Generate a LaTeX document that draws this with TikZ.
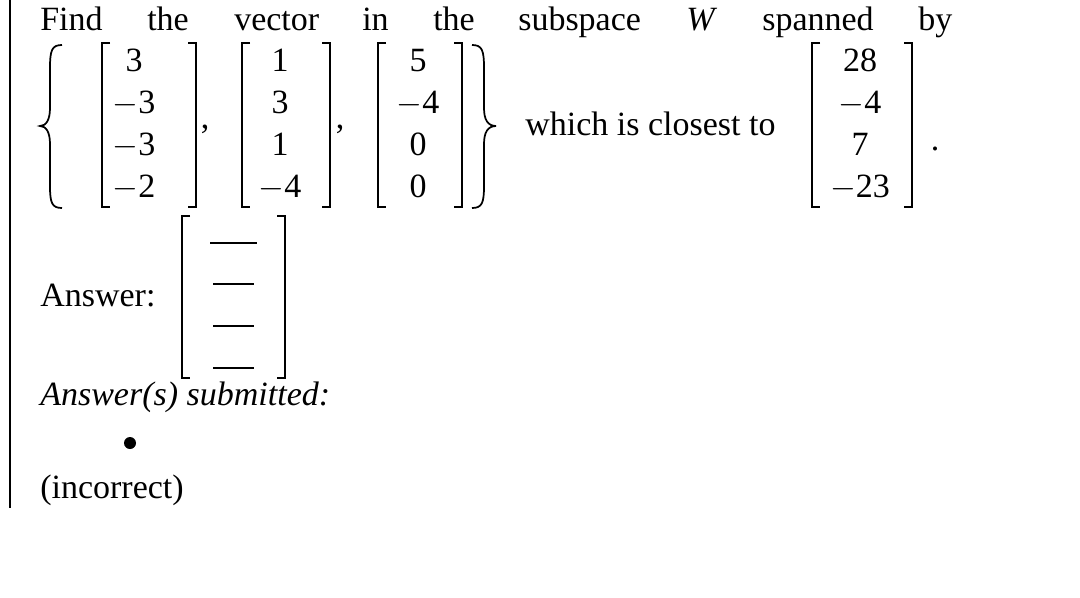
\documentclass[tikz,border=0pt]{standalone}
\usepackage{fontspec}
\setmainfont{Liberation Serif}
\begin{document}
\begin{tikzpicture}[x=0.75pt,y=-0.75pt,
  txt/.style={inner sep=0pt,anchor=base west,font=\fontsize{25.5}{30}\selectfont},
  num/.style={inner sep=0pt,anchor=base,font=\fontsize{25.5}{30}\selectfont},
  brk/.style={line width=1.4pt},
  brc/.style={line width=1.3pt}]
\useasboundingbox[fill=white] (0,0) rectangle (1080,597);
\draw[line width=0.8pt] (10,0) -- (10,508);
% first line
\foreach \w/\x in {Find/40,the/147,vector/234,in/362,the/433,subspace/518,spanned/762,by/918}
  \node[txt] at (\x,30) {\w};
\node[txt] at (686,30) {\itshape W};
% braces
\draw[brc] (62,45) .. controls (52,45) and (50,50) .. (50,68) -- (50,108)
  .. controls (50,120) and (46,126) .. (40,126) .. controls (46,126) and (50,132) .. (50,144)
  -- (50,186) .. controls (50,203) and (52,208) .. (62,208);
\draw[brc] (472,45) .. controls (482,45) and (484,50) .. (484,68) -- (484,108)
  .. controls (484,120) and (488,126) .. (496,126) .. controls (488,126) and (484,132) .. (484,144)
  -- (484,186) .. controls (484,203) and (482,208) .. (472,208);
% matrices
\newcommand\mybrk[2]{%
 \draw[brk] (#1+8,43) -- (#1,43) -- (#1,207) -- (#1+8,207);
 \draw[brk] (#2-8,43) -- (#2,43) -- (#2,207) -- (#2-8,207);}
\mybrk{102}{196}
\mybrk{242}{330}
\mybrk{378}{462}
\mybrk{812}{912}
\foreach \a/\b/\c/\d [count=\i] in {3/1/5/28,{$-$3}/3/{$-$4}/{$-$4},{$-$3}/1/0/7,{$-$2}/{$-$4}/0/{$-$23}}{
  \pgfmathsetmacro\yy{71+42*(\i-1)}
  \node[num] (a\i) at (134,\yy) {\a};
  \node[num] (b\i) at (280,\yy) {\b};
  \node[num] (c\i) at (418,\yy) {\c};
  \node[num] (d\i) at (860,\yy) {\d};
}
\node[num] (cm1) at (205,128) {,};
\node[num] (cm2) at (340,128) {,};
\node[txt] (cl) at (525,135) {which is closest to};
\node[num] (pd) at (935,150) {.};
% answer
\node[txt] (ans) at (40,306) {Answer:};
\draw[brk] (190,216) -- (182,216) -- (182,378) -- (190,378);
\draw[brk] (277,216) -- (285,216) -- (285,378) -- (277,378);
\draw[line width=0.8pt] (210,243) -- (257,243);
\foreach \y in {284,326,368} \draw[line width=0.8pt] (213,\y) -- (254,\y);
\node[txt] (sub) at (40,405) {\itshape Answer(s) submitted:};
\fill (130,443) circle (6);
\node[txt] (inc) at (40,498) {(incorrect)};
\end{tikzpicture}
\end{document}
